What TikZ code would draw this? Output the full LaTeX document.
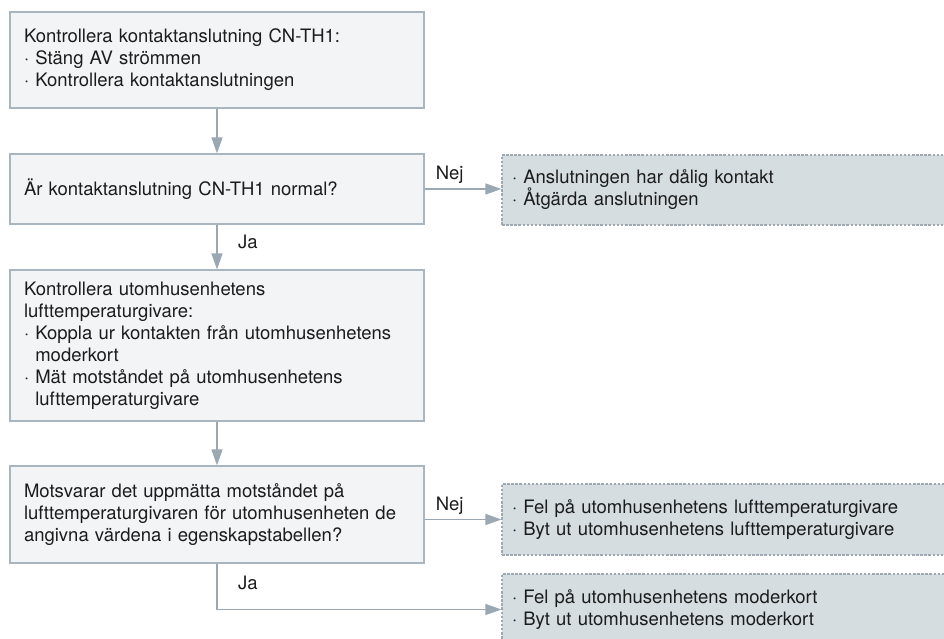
\documentclass[tikz,border=0pt]{standalone}
\usepackage{fontspec}
\setmainfont{TeX Gyre Heros}
\usetikzlibrary{arrows.meta}
\usetikzlibrary{positioning}

\definecolor{boxfill}{HTML}{F3F4F6}
\definecolor{boxline}{HTML}{A9B5BF}
\definecolor{fixfill}{HTML}{D5DDE1}
\definecolor{fixline}{HTML}{9EA9B2}
\definecolor{flow}{HTML}{9AA8B4}
\definecolor{ink}{HTML}{1C1C1C}

\newcommand{\ind}{\phantom{· }}

\begin{document}
\begin{tikzpicture}
	[
	x=1pt, y=-1pt,
  > = {Triangle[length=16pt,width=11pt]},
  every node/.style = {font=\fontsize{18.5}{22}\selectfont, text=ink},
  checkbox/.style = {draw=boxline, line width=1.2pt, fill=boxfill, text width=386pt, inner xsep=14pt, inner ysep=0pt, align=left},
  fixbox/.style = {draw=fixline, line width=1.2pt, dash pattern=on 2.5pt off 1.6pt, fill=fixfill, text width=428pt, inner xsep=10pt, inner ysep=0pt, align=left, minimum height=71pt},
  flowline/.style = {draw=flow, line width=1.3pt},
  answer/.style = {inner sep=0pt}
  ]
	\clip (0,0) rectangle (944,639);

	\coordinate (c1) at (217,60);
	\coordinate (q1) at (217,189);
	\coordinate (c2) at (217,345.5);
	\coordinate (q2) at (217,514.5);
	\coordinate (f1) at (726,190);
	\coordinate (f2) at (726,519.5);
	\coordinate (f3) at (726,609.5);

	% left column: checks and questions
	\node[checkbox, minimum height=96pt] (check1) at (c1)
		{Kontrollera kontaktanslutning CN-TH1:\\
		 · Stäng AV strömmen\\
		 · Kontrollera kontaktanslutningen};
	\node[checkbox, minimum height=70pt] (query1) at (q1)
		{Är kontaktanslutning CN-TH1 normal?};
	\node[checkbox, minimum height=151pt] (check2) at (c2)
		{Kontrollera utomhusenhetens\\
		 lufttemperaturgivare:\\
		 · Koppla ur kontakten från utomhusenhetens\\
		 \ind moderkort\\
		 · Mät motståndet på utomhusenhetens\\
		 \ind lufttemperaturgivare};
	\node[checkbox, minimum height=97pt] (query2) at (q2)
		{Motsvarar det uppmätta motståndet på\\
		 lufttemperaturgivaren för utomhusenheten de\\
		 angivna värdena i egenskapstabellen?};

	% right column: results
	\node[fixbox, minimum height=70pt] (fix1) at (f1)
		{· Anslutningen har dålig kontakt\\
		 · Åtgärda anslutningen};
	\node[fixbox] (fix2) at (f2)
		{· Fel på utomhusenhetens lufttemperaturgivare\\
		 · Byt ut utomhusenhetens lufttemperaturgivare};
	\node[fixbox] (fix3) at (f3)
		{· Fel på utomhusenhetens moderkort\\
		 · Byt ut utomhusenhetens moderkort};

	\draw[flowline, ->] (check1) -- (query1);
	\draw[flowline, ->] (query1) -- (check2);
	\draw[flowline, ->] (check2) -- (query2);
	\draw[flowline, ->] (query1.east) -- (query1.east -| fix1.west);
	\draw[flowline, ->] (fix2.west -| query2.east) -- (fix2.west);
	\draw[flowline, ->] (query2.south) |- (fix3.west);

	\node[answer, above right=5pt and 11pt of query1.east] (nej1) {Nej};
	\node[answer, below right=10pt and 21pt of query1.south] (ja1) {Ja};
	\node[answer, above right=5pt and 11pt of query2.east |- fix2.west] (nej2) {Nej};
	\node[answer, below right=12pt and 21pt of query2.south] (ja2) {Ja};

\end{tikzpicture}
\end{document}
